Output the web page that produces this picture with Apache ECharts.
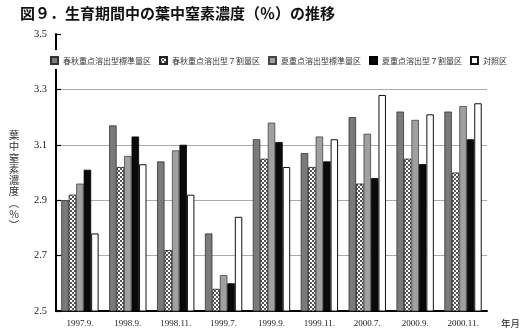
<!DOCTYPE html>
<html>
<head>
<meta charset="utf-8">
<script src="https://cdn.jsdelivr.net/npm/echarts@6/dist/echarts.min.js"></script>
<style>
  html, body { margin: 0; padding: 0; background: #fff; }
  #chart { width: 519px; height: 336px; }
</style>
</head>
<body>
<div id="chart"></div>
<script>
// Sampling dates (year.month.)
const categories = ['1997.9.', '1998.9.', '1998.11.', '1999.7.', '1999.9.', '1999.11.', '2000.7.', '2000.9.', '2000.11.'];

// Treatment plot names
const seriesNames = ['春秋重点溶出型標準量区', '春秋重点溶出型７割量区', '夏重点溶出型標準量区', '夏重点溶出型７割量区', '対照区'];

// Leaf nitrogen concentration (%) per treatment
const springStd  = [2.90, 3.17, 3.04, 2.78, 3.12, 3.07, 3.20, 3.22, 3.22];
const spring70   = [2.92, 3.02, 2.72, 2.58, 3.05, 3.02, 2.96, 3.05, 3.00];
const summerStd  = [2.96, 3.06, 3.08, 2.63, 3.18, 3.13, 3.14, 3.19, 3.24];
const summer70   = [3.01, 3.13, 3.10, 2.60, 3.11, 3.04, 2.98, 3.03, 3.12];
const control    = [2.78, 3.03, 2.92, 2.84, 3.02, 3.12, 3.28, 3.21, 3.25];

// Value axis range and step
const yMin = 2.5, yMax = 3.5, yStep = 0.2;

// Axis titles (the value-axis title is written top to bottom, one glyph per cell)
const yTitleChars = ['葉', '中', '窒', '素', '濃', '度', '︵', '%', '︶'];
const xTitle = '年月';

// Polka-dot fill for the 7-割 spring plot
function stipple() {
  const c = document.createElement('canvas');
  c.width = 4; c.height = 4;
  const g = c.getContext('2d');
  g.fillStyle = '#fff';
  g.fillRect(0, 0, 4, 4);
  g.fillStyle = '#111';
  const dot = (x, y) => { g.beginPath(); g.arc(x, y, 0.95, 0, Math.PI * 2); g.fill(); };
  dot(1, 1); dot(3, 3); dot(-1, 3); dot(3, -1); dot(5, 1); dot(1, 5);
  return c;
}

const serif = '"Liberation Serif", "DejaVu Serif", serif';
const jp = '"Noto Sans CJK JP", sans-serif';

const styles = [
  { color: '#7a7a7a', borderColor: '#333', borderWidth: 0.8 },
  { color: { image: stipple(), repeat: 'repeat' }, borderColor: '#222', borderWidth: 0.8 },
  { color: '#a0a0a0', borderColor: '#444', borderWidth: 0.8 },
  { color: '#0a0a0a', borderColor: '#000', borderWidth: 0.8 },
  { color: '#ffffff', borderColor: '#111', borderWidth: 1 }
];
const values = [springStd, spring70, summerStd, summer70, control];

// Vertical title: one upright text element per glyph, stacked in a column
const cell = 11.3;
const yTitleGroup = {
  type: 'group',
  x: 14,
  y: 135,
  children: yTitleChars.map((ch, i) => ({
    type: 'text',
    x: 0,
    y: i * cell,
    style: {
      text: ch,
      fontSize: 10.5,
      fontFamily: jp,
      fill: '#333',
      align: 'center',
      verticalAlign: 'middle'
    }
  }))
};

const chart = echarts.init(document.getElementById('chart'), null, { renderer: 'canvas' });

chart.setOption({
  animation: false,
  backgroundColor: '#fff',
  title: {
    text: '図９．生育期間中の葉中窒素濃度（％）の推移',
    left: 20,
    top: 6,
    padding: 0,
    textStyle: { fontSize: 15, fontWeight: 'bold', color: '#111', fontFamily: jp }
  },
  legend: {
    data: seriesNames,
    left: 45,
    top: 50,
    icon: 'rect',
    itemWidth: 7,
    itemHeight: 7,
    itemGap: 8,
    padding: [6, 5, 4, 5],
    backgroundColor: '#fff',
    z: 10,
    textStyle: { fontSize: 8, color: '#333', fontFamily: jp }
  },
  grid: { left: 56, right: 32, top: 34, bottom: 25, containLabel: false },
  graphic: [
    yTitleGroup,
    {
      type: 'text',
      x: 501,
      y: 323,
      style: {
        text: xTitle,
        fontSize: 9.5,
        fontFamily: jp,
        fill: '#222',
        align: 'left',
        verticalAlign: 'middle'
      }
    }
  ],
  xAxis: {
    type: 'category',
    data: categories,
    boundaryGap: true,
    axisLine: { lineStyle: { color: '#000', width: 2 } },
    axisTick: { inside: true, length: 3, lineStyle: { color: '#000', width: 1.2 } },
    axisLabel: { fontSize: 9, color: '#222', fontFamily: serif, margin: 8 },
    splitLine: { show: false }
  },
  yAxis: {
    type: 'value',
    min: yMin,
    max: yMax,
    interval: yStep,
    axisLine: { show: true, lineStyle: { color: '#000', width: 2 } },
    axisTick: { show: true, inside: true, length: 5, lineStyle: { color: '#000', width: 1.2 } },
    axisLabel: {
      fontSize: 10.5, color: '#222', fontFamily: serif, margin: 9,
      formatter: v => v.toFixed(1)
    },
    splitLine: { show: true, showMinLine: false, showMaxLine: false, lineStyle: { color: '#aaa', width: 1 } }
  },
  series: seriesNames.map((name, i) => ({
    name,
    type: 'bar',
    data: values[i],
    barGap: '0%',
    barCategoryGap: '22%',
    itemStyle: styles[i],
    emphasis: { disabled: true }
  }))
});
</script>
</body>
</html>
